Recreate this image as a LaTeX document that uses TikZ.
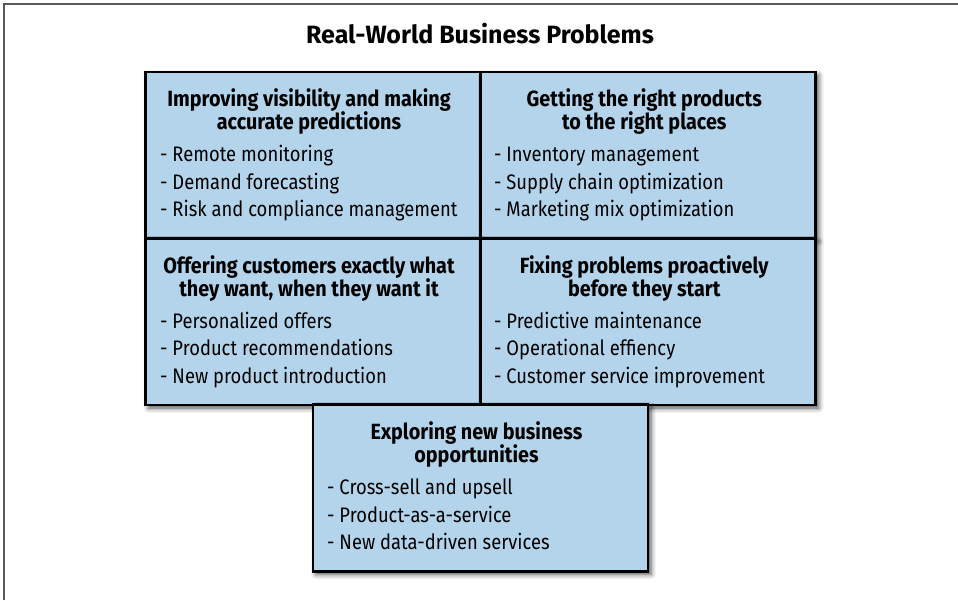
\documentclass[tikz,border=0pt]{standalone}
\usepackage{fontspec}
\setmainfont[FakeStretch=0.875]{Fira Sans}
\newfontfamily\headfont[FakeStretch=0.9]{Fira Sans}
\newfontfamily\titlefont{Fira Sans}
\usetikzlibrary{shadows.blur}
\definecolor{boxblue}{RGB}{179,212,234}
\definecolor{framegray}{RGB}{90,90,90}
\begin{document}
\begin{tikzpicture}[x=1pt,y=-1pt,
  box/.style={draw=black, line width=2.6pt, fill=boxblue, minimum width=335pt, minimum height=166.5pt, inner sep=0pt,
    blur shadow={shadow xshift=3pt, shadow yshift=-3pt, shadow blur radius=5pt, shadow opacity=70}},
  head/.style={anchor=base, inner sep=0pt, font=\headfont\fontsize{22}{23}\selectfont\bfseries},
  item/.style={anchor=base west, inner sep=0pt, font=\fontsize{21}{27}\selectfont},
  titletext/.style={anchor=base, inner sep=0pt, font=\titlefont\fontsize{25}{28}\selectfont\bfseries}]
\useasboundingbox (0,0) rectangle (958,600);
\draw[framegray, line width=1.3pt] (4,600) -- (4,4) -- (958,4);
\node[titletext] (title) at (480,43.3) {Real-World Business Problems};
\node[box] (b1) at (313,155.25) {};
\node[box] (b2) at (648.25,155.25) {};
\node[box] (b3) at (313,321.75) {};
\node[box] (b4) at (648.25,321.75) {};
\node[box] (b5) at (480.5,488) {};
% box 1
\node[head] (h1a) at (309,106.5) {Improving visibility and making};
\node[head] (h1b) at (309,129.5) {accurate predictions};
\node[item] (i1a) at (160,161.7) {- Remote monitoring};
\node[item] (i1b) at (160,189.2) {- Demand forecasting};
\node[item] (i1c) at (160,216.7) {- Risk and compliance management};
% box 2
\node[head] (h2a) at (644.25,106.5) {Getting the right products};
\node[head] (h2b) at (644.25,129.5) {to the right places};
\node[item] (i2a) at (494,161.7) {- Inventory management};
\node[item] (i2b) at (494,189.2) {- Supply chain optimization};
\node[item] (i2c) at (494,216.7) {- Marketing mix optimization};
% box 3
\node[head] (h3a) at (309,273) {Offering customers exactly what};
\node[head] (h3b) at (309,296) {they want, when they want it};
\node[item] (i3a) at (160,328.2) {- Personalized offers};
\node[item] (i3b) at (160,355.7) {- Product recommendations};
\node[item] (i3c) at (160,383.2) {- New product introduction};
% box 4
\node[head] (h4a) at (644.25,273) {Fixing problems proactively};
\node[head] (h4b) at (644.25,296) {before they start};
\node[item] (i4a) at (494,328.2) {- Predictive maintenance};
\node[item] (i4b) at (494,355.7) {- Operational effiency};
\node[item] (i4c) at (494,383.2) {- Customer service improvement};
% box 5
\node[head] (h5a) at (476.5,439.5) {Exploring new business};
\node[head] (h5b) at (476.5,462.5) {opportunities};
\node[item] (i5a) at (327,494.7) {- Cross-sell and upsell};
\node[item] (i5b) at (327,522.2) {- Product-as-a-service};
\node[item] (i5c) at (327,549.7) {- New data-driven services};
\end{tikzpicture}
\end{document}
